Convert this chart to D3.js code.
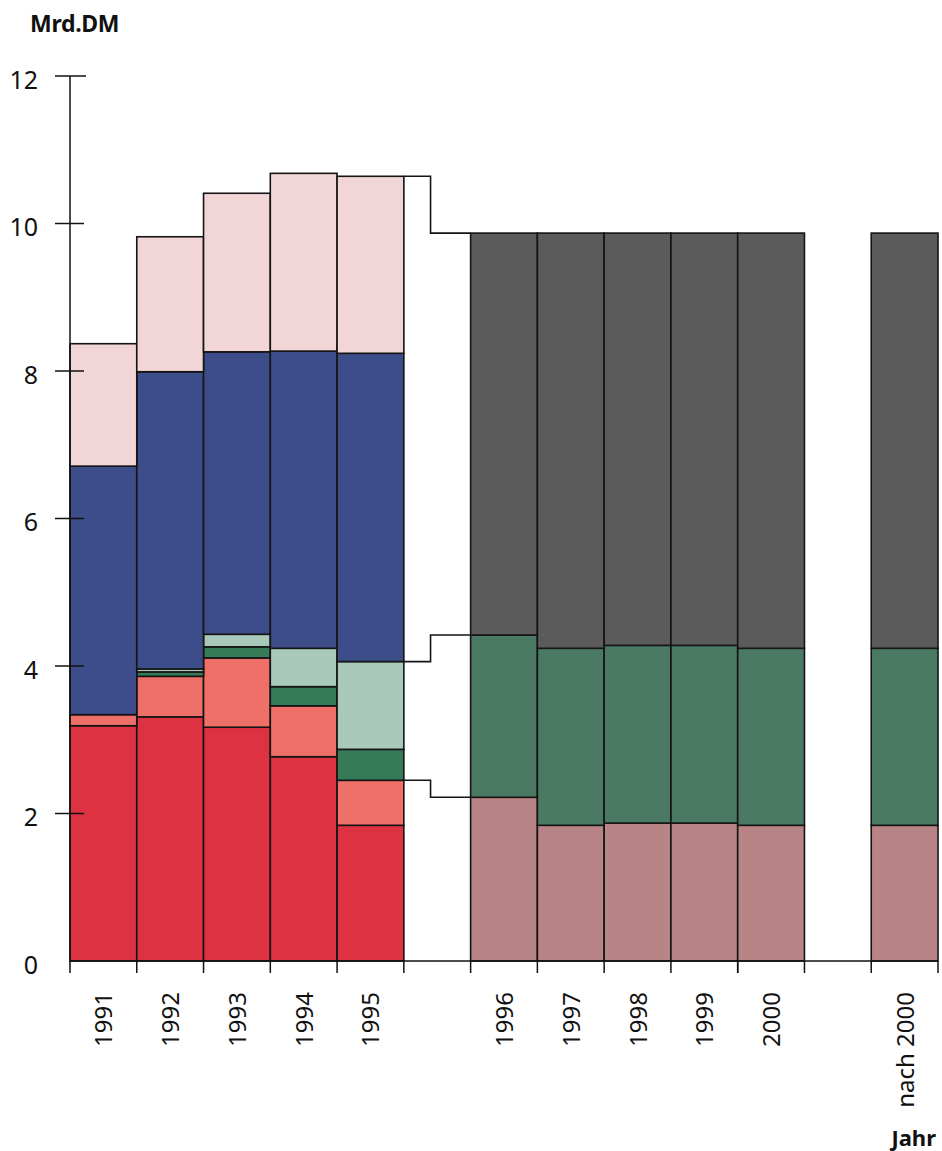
<!DOCTYPE html>
<html><head><meta charset="utf-8">
<script src="https://cdn.jsdelivr.net/npm/d3@7"></script>
<style>
html,body{margin:0;padding:0;background:#fff;}
svg{display:block;font-family:"Noto Sans",sans-serif;}
</style></head>
<body>
<script>
// ---- data ----
const slots = ["1991","1992","1993","1994","1995","gapA","1996","1997","1998","1999","2000","gapB","nach 2000"];
const earlyYears = ["1991","1992","1993","1994","1995"];
const lateYears = ["1996","1997","1998","1999","2000","nach 2000"];
// early series (bottom to top), Mrd.DM
const earlyRed        = [3.19, 3.31, 3.17, 2.77, 1.84];
const earlySalmon     = [0.15, 0.55, 0.94, 0.69, 0.61];
const earlyDarkGreen  = [0.00, 0.06, 0.15, 0.26, 0.42];
const earlyLightGreen = [0.00, 0.04, 0.17, 0.52, 1.19];
const earlyBlue       = [3.37, 4.03, 3.83, 4.03, 4.18];
const earlyPink       = [1.66, 1.83, 2.15, 2.41, 2.40];
// late series (bottom to top)
const lateBrown = [2.22, 1.84, 1.87, 1.87, 1.84, 1.84];
const lateGreen = [2.20, 2.40, 2.41, 2.41, 2.40, 2.40];
const lateGray  = [5.45, 5.63, 5.59, 5.59, 5.63, 5.63];
const yTicks = [0, 2, 4, 6, 8, 10, 12];

const earlyKeys = ["red","salmon","darkGreen","lightGreen","blue","pink"];
const earlyColors = {red:"#dc3241", salmon:"#ef6f69", darkGreen:"#367a58", lightGreen:"#a9c9bb", blue:"#3d4d89", pink:"#f2d6d7"};
const lateKeys = ["brown","green","gray"];
const lateColors = {brown:"#b98486", green:"#4b7a64", gray:"#5b5b5b"};

const earlyRows = earlyYears.map((y,i)=>({year:y, red:earlyRed[i], salmon:earlySalmon[i], darkGreen:earlyDarkGreen[i], lightGreen:earlyLightGreen[i], blue:earlyBlue[i], pink:earlyPink[i]}));
const lateRows = lateYears.map((y,i)=>({year:y, brown:lateBrown[i], green:lateGreen[i], gray:lateGray[i]}));

const W = 942, H = 1151;
const svg = d3.select("body").append("svg").attr("width", W).attr("height", H);

const x = d3.scaleBand().domain(slots).range([70, 938]).paddingInner(0).paddingOuter(0);
const y = d3.scaleLinear().domain([0, 12]).range([961, 76]);

function drawStack(rows, keys, colors){
  const stack = d3.stack().keys(keys)(rows);
  stack.forEach(layer=>{
    svg.append("g").selectAll("rect").data(layer.filter(d=>d[1]-d[0]>0)).join("rect")
      .attr("x", d=>x(d.data.year))
      .attr("width", x.bandwidth())
      .attr("y", d=>y(d[1]))
      .attr("height", d=>y(d[0])-y(d[1]))
      .attr("fill", colors[layer.key])
      .attr("stroke", "#141414")
      .attr("stroke-width", 1.6);
  });
  return stack;
}
const es = drawStack(earlyRows, earlyKeys, earlyColors);
const ls = drawStack(lateRows, lateKeys, lateColors);

// connectors from 1995 to 1996
const x0 = x("1995") + x.bandwidth();
const x2 = x("1996");
const xm = x0 + (x2 - x0) * 0.4;
const i95 = earlyYears.indexOf("1995");
const pairs = [
  [es[5][i95][1], ls[2][0][1]],
  [es[3][i95][1], ls[1][0][1]],
  [es[1][i95][1], ls[0][0][1]]
];
pairs.forEach(([a,b])=>{
  svg.append("path")
    .attr("d", `M${x0},${y(a)}H${xm}V${y(b)}H${x2}`)
    .attr("fill","none").attr("stroke","#141414").attr("stroke-width",1.6);
});

// y axis
svg.append("line").attr("x1",70).attr("x2",70).attr("y1",y(12)).attr("y2",y(0)).attr("stroke","#111").attr("stroke-width",1.5);
const yt = svg.append("g");
yTicks.forEach(t=>{
  if (t>0) yt.append("line").attr("x1",55).attr("x2",t===12?86:84).attr("y1",y(t)).attr("y2",y(t)).attr("stroke","#111").attr("stroke-width",1.5);
  yt.append("text").attr("x",38).attr("y",y(t)+4).attr("dy","0.35em").attr("text-anchor","end")
    .attr("font-size",25).attr("fill","#111").text(t);
});

// x axis
svg.append("line").attr("x1",70).attr("x2",938).attr("y1",y(0)).attr("y2",y(0)).attr("stroke","#111").attr("stroke-width",1.5);
const bounds = new Set();
slots.forEach(s=>{ if(!s.startsWith("gap")){ bounds.add(x(s)); bounds.add(x(s)+x.bandwidth()); }});
[...bounds].forEach(b=>{
  svg.append("line").attr("x1",b).attr("x2",b).attr("y1",y(0)).attr("y2",y(0)+12).attr("stroke","#111").attr("stroke-width",1.5);
});
slots.filter(s=>!s.startsWith("gap")).forEach(s=>{
  const cx = x(s) + x.bandwidth()/2;
  svg.append("text")
    .attr("transform",`translate(${cx+9},992) rotate(-90)`)
    .attr("text-anchor","end")
    .attr("font-size",24).attr("fill","#111").text(s);
});

// titles
svg.append("text").attr("x",30).attr("y",32).attr("font-size",23).attr("font-weight","bold").attr("fill","#111").attr("letter-spacing","-0.3").text("Mrd.DM");
svg.append("text").attr("x",936).attr("y",1146).attr("text-anchor","end").attr("font-size",22).attr("font-weight","bold").attr("fill","#111").text("Jahr");
</script>
</body></html>
